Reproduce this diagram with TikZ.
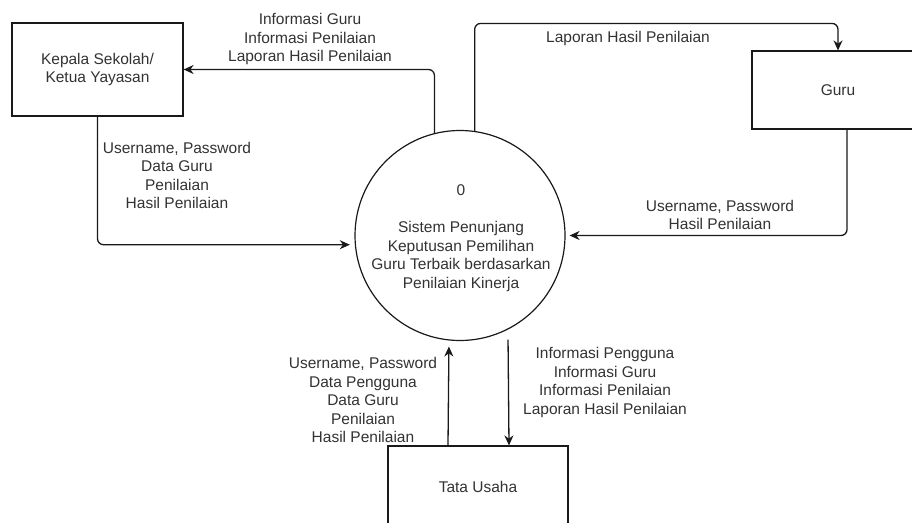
\documentclass[tikz,border=0pt]{standalone}
\usepackage{fontspec}
\setmainfont{Liberation Sans}
\usetikzlibrary{arrows.meta}
\begin{document}
\begin{tikzpicture}[x=1pt,y=-1pt,
  ent/.style={draw=black!90, line width=1.2pt, inner sep=0pt, align=center,
    font=\fontsize{15.5}{18.5}\selectfont, text=black!80},
  lbl/.style={align=center, font=\fontsize{15.5}{18.5}\selectfont, text=black!80, inner sep=0pt},
  flow/.style={draw=black!90, line width=1.3pt, rounded corners=6pt, -{Stealth[length=10pt,width=9pt]}},
]
\useasboundingbox (0,0) rectangle (912,522);
\clip (0,0) rectangle (912,522);
\fill[white] (0,0) rectangle (912,522);

% entities
\node[ent, minimum width=171pt, minimum height=93pt] (kep) at (97.5,69.5) {Kepala Sekolah/\\Ketua Yayasan};
\node[ent, minimum width=172pt, minimum height=78pt] (guru) at (838,90) {Guru};
\node[ent, minimum width=180pt, minimum height=82pt] (tata) at (478,487) {Tata Usaha};

% process
\node[ent, circle, minimum size=210pt] (c) at (460,235.5) {};
\node[lbl] (ctext) at (461,238) {0\\\mbox{}\\Sistem Penunjang\\Keputusan Pemilihan\\Guru Terbaik berdasarkan\\Penilaian Kinerja};

% flows
\draw[flow] (c.104.8) |- (kep.east);
\draw[flow, shorten >=5pt] (kep.south) |- (c.185.7);
\draw[flow] (c.82.3) |- ([yshift=27pt]guru.north) -- (guru.north);
\draw[flow, shorten >=4pt] ([xshift=9pt]guru.south) |- (c.east);
\draw[flow, shorten >=6pt] ([xshift=-30pt]tata.north) -- (c.-96.6);
\draw[flow, shorten <=10pt] (c.-63.4) -- ([xshift=31pt]tata.north);

% labels
\node[lbl] (l1) at (310,39) {Informasi Guru\\Informasi Penilaian\\Laporan Hasil Penilaian};
\node[lbl] (l2) at (177,175.5) {Username, Password\\Data Guru\\Penilaian\\Hasil Penilaian};
\node[lbl] (l3) at (628,38) {Laporan Hasil Penilaian};
\node[lbl] (l4) at (720,215) {Username, Password\\Hasil Penilaian};
\node[lbl] (l5) at (363,400) {Username, Password\\Data Pengguna\\Data Guru\\Penilaian\\Hasil Penilaian};
\node[lbl] (l6) at (605,382.5) {Informasi Pengguna\\Informasi Guru\\Informasi Penilaian\\Laporan Hasil Penilaian};
\end{tikzpicture}
\end{document}
